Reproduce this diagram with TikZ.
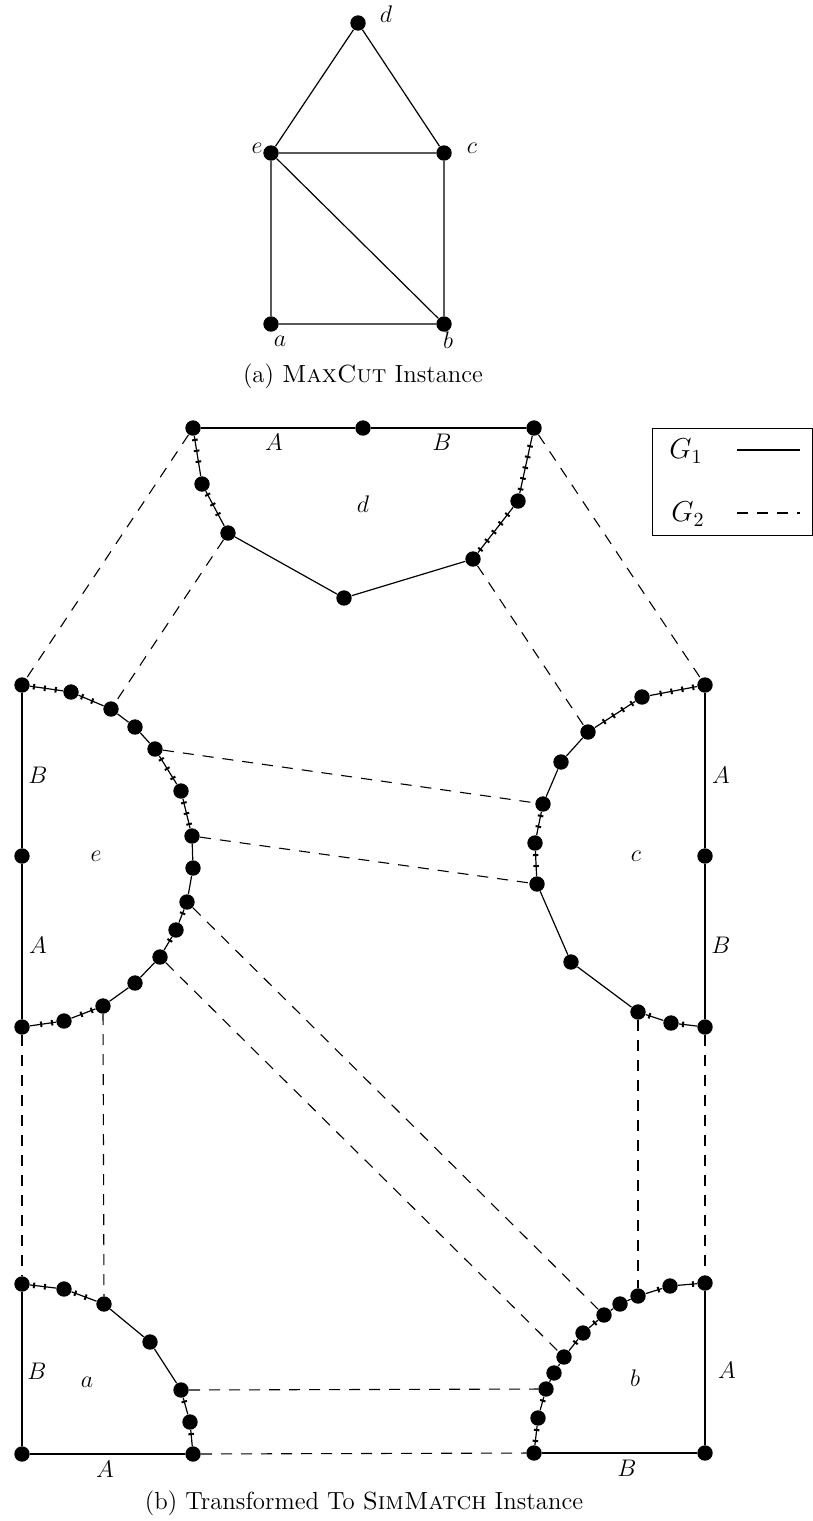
\documentclass[tikz,border=0pt]{standalone}
\usetikzlibrary{decorations.markings}
\begin{document}
\begin{tikzpicture}[x=0.5pt,y=-0.5pt,
  dot/.style={circle,fill=black,inner sep=0pt,minimum size=7.7pt},
  gone/.style={line width=0.6pt},
  hatch/.style={line width=0.6pt, postaction={decorate, decoration={markings, mark=between positions 2pt and -2pt step 5.5pt with {\draw[line width=1pt] (0pt,-1.4pt) -- (0pt,1.4pt);}}}},
  gtwo/.style={line width=0.55pt, dash pattern=on 5.5pt off 4.5pt},
  lab/.style={font=\fontsize{11.5}{13}\selectfont, inner sep=0pt},
  captext/.style={font=\fontsize{12.4}{14}\selectfont, inner sep=0pt},
]
\fill[white] (0,0) rectangle (813,1521);
\useasboundingbox (0,0) rectangle (813,1521);

% ---------- (a) MaxCut instance ----------
\node[dot] (gd) at (358,23) {};
\node[dot] (ge) at (271,153) {};
\node[dot] (gc) at (444,153) {};
\node[dot] (ga) at (271,324) {};
\node[dot] (gb) at (444,324) {};
\draw[gone] (gd) -- (ge) (gd) -- (gc) (ge) -- (gc) (ge) -- (ga) (ge) -- (gb) (gc) -- (gb) (ga) -- (gb);
\node[lab] (lgd) at (386,14) {$d$};
\node[lab] (lge) at (257,148) {$e$};
\node[lab] (lgc) at (472,148) {$c$};
\node[lab] (lga) at (280,341) {$a$};
\node[lab] (lgb) at (448,340) {$b$};
\node[captext] (capa) at (363,376) {(a) \textsc{MaxCut} Instance};

% ---------- d gadget ----------
\node[dot] (d1) at (193,428) {};
\node[dot] (d2) at (363,428) {};
\node[dot] (d3) at (534,428) {};
\node[dot] (d4) at (202,484) {};
\node[dot] (d5) at (228,533) {};
\node[dot] (d6) at (344,598) {};
\node[dot] (d7) at (473,559) {};
\node[dot] (d8) at (518,501) {};
\draw[gone] (d1) -- (d2) -- (d3);
\draw[hatch] (d1) -- (d4);
\draw[hatch] (d4) -- (d5);
\draw[gone] (d5) -- (d6) -- (d7);
\draw[hatch] (d7) -- (d8);
\draw[hatch] (d8) -- (d3);
\node[lab] (ldA) at (274,442) {$A$};
\node[lab] (ldB) at (442,442) {$B$};
\node[lab] (ldd) at (363,504) {$d$};

% ---------- e gadget ----------
\node[dot] (e1) at (22,685) {};
\node[dot] (e2) at (22,856) {};
\node[dot] (e3) at (22,1027) {};
\node[dot] (e4) at (71,692) {};
\node[dot] (e5) at (111,709) {};
\node[dot] (e6) at (135,727) {};
\node[dot] (e7) at (155,749) {};
\node[dot] (e8) at (181,791) {};
\node[dot] (e9) at (192,836) {};
\node[dot] (e10) at (193,868) {};
\node[dot] (e11) at (187,902) {};
\node[dot] (e12) at (176,930) {};
\node[dot] (e13) at (160,957) {};
\node[dot] (e14) at (135,983) {};
\node[dot] (e15) at (103,1006) {};
\node[dot] (e16) at (64,1021) {};
\draw[gone] (e1) -- (e2) -- (e3);
\draw[hatch] (e1) -- (e4);
\draw[hatch] (e4) -- (e5);
\draw[gone] (e5) -- (e6) -- (e7);
\draw[hatch] (e7) -- (e8);
\draw[hatch] (e8) -- (e9);
\draw[gone] (e9) -- (e10) -- (e11);
\draw[hatch] (e11) -- (e12);
\draw[hatch] (e12) -- (e13);
\draw[gone] (e13) -- (e14) -- (e15);
\draw[hatch] (e15) -- (e16);
\draw[hatch] (e16) -- (e3);
\node[lab] (leB) at (38,775) {$B$};
\node[lab] (lee) at (96,856) {$e$};
\node[lab] (leA) at (38,945) {$A$};

% ---------- c gadget ----------
\node[dot] (c1) at (705,685) {};
\node[dot] (c2) at (705,856) {};
\node[dot] (c3) at (705,1027) {};
\node[dot] (c4) at (642,697) {};
\node[dot] (c5) at (588,732) {};
\node[dot] (c6) at (561,762) {};
\node[dot] (c7) at (543,804) {};
\node[dot] (c8) at (535,843) {};
\node[dot] (c9) at (537,884) {};
\node[dot] (c10) at (571,962) {};
\node[dot] (c11) at (638,1012) {};
\node[dot] (c12) at (671,1023) {};
\draw[gone] (c1) -- (c2) -- (c3);
\draw[hatch] (c1) -- (c4);
\draw[hatch] (c4) -- (c5);
\draw[gone] (c5) -- (c6) -- (c7);
\draw[hatch] (c7) -- (c8);
\draw[hatch] (c8) -- (c9);
\draw[gone] (c9) -- (c10) -- (c11);
\draw[hatch] (c11) -- (c12);
\draw[hatch] (c12) -- (c3);
\node[lab] (lcA) at (721,775) {$A$};
\node[lab] (lcc) at (636,856) {$c$};
\node[lab] (lcB) at (721,945) {$B$};

% ---------- a gadget ----------
\node[dot] (a1) at (22,1284) {};
\node[dot] (a2) at (22,1454) {};
\node[dot] (a3) at (193,1454) {};
\node[dot] (a4) at (64,1289) {};
\node[dot] (a5) at (104,1304) {};
\node[dot] (a6) at (150,1342) {};
\node[dot] (a7) at (181,1390) {};
\node[dot] (a8) at (190,1422) {};
\draw[gone] (a1) -- (a2) -- (a3);
\draw[hatch] (a1) -- (a4);
\draw[hatch] (a4) -- (a5);
\draw[gone] (a5) -- (a6) -- (a7);
\draw[hatch] (a7) -- (a8);
\draw[hatch] (a8) -- (a3);
\node[lab] (laB) at (37,1371) {$B$};
\node[lab] (laa) at (87,1382) {$a$};
\node[lab] (laA) at (105,1469) {$A$};

% ---------- b gadget ----------
\node[dot] (b1) at (705,1283) {};
\node[dot] (b2) at (705,1453) {};
\node[dot] (b3) at (534,1453) {};
\node[dot] (b4) at (670,1286) {};
\node[dot] (b5) at (638,1296) {};
\node[dot] (b6) at (620,1304) {};
\node[dot] (b7) at (604,1315) {};
\node[dot] (b8) at (583,1333) {};
\node[dot] (b9) at (564,1357) {};
\node[dot] (b10) at (554,1373) {};
\node[dot] (b11) at (546,1389) {};
\node[dot] (b12) at (538,1418) {};
\draw[gone] (b1) -- (b2) -- (b3);
\draw[hatch] (b1) -- (b4);
\draw[hatch] (b4) -- (b5);
\draw[gone] (b5) -- (b6) -- (b7);
\draw[hatch] (b7) -- (b8);
\draw[hatch] (b8) -- (b9);
\draw[gone] (b9) -- (b10) -- (b11);
\draw[hatch] (b11) -- (b12);
\draw[hatch] (b12) -- (b3);
\node[lab] (lbb) at (635,1378) {$b$};
\node[lab] (lbA) at (727,1370) {$A$};
\node[lab] (lbB) at (627,1468) {$B$};

% ---------- G2 connections ----------
\draw[gtwo] (d1) -- (e1);
\draw[gtwo] (d5) -- (e5);
\draw[gtwo] (d7) -- (c5);
\draw[gtwo] (d3) -- (c1);
\draw[gtwo] (e7) -- (c7);
\draw[gtwo] (e9) -- (c9);
\draw[gtwo] (e3) -- (a1);
\draw[gtwo] (e15) -- (a5);
\draw[gtwo] (e11) -- (b7);
\draw[gtwo] (e13) -- (b9);
\draw[gtwo] (c11) -- (b5);
\draw[gtwo] (c3) -- (b1);
\draw[gtwo] (a7) -- (b11);
\draw[gtwo] (a3) -- (b3);

% ---------- legend ----------
\node[draw, line width=0.6pt, anchor=north west, inner sep=0pt, minimum width=80pt, minimum height=53.5pt] (legend) at (652,428) {};
\node[font=\fontsize{14}{16}\selectfont, inner sep=0pt] (lg1) at (686,451) {$G_1$};
\node[font=\fontsize{14}{16}\selectfont, inner sep=0pt] (lg2) at (688,514) {$G_2$};
\coordinate (s1) at (737,450);
\coordinate (s2) at (800,450);
\coordinate (t1) at (737,513);
\coordinate (t2) at (800,513);
\draw[gone] (s1) -- (s2);
\draw[gtwo] (t1) -- (t2);

% ---------- caption b ----------
\node[captext] (capb) at (364,1503) {(b) Transformed To \textsc{SimMatch} Instance};
\end{tikzpicture}
\end{document}
